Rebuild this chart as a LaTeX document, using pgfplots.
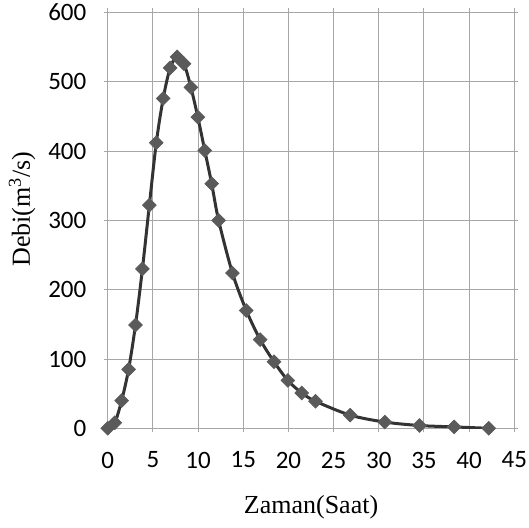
\documentclass[border=0pt]{standalone}
\usepackage{pgfplots}
\pgfplotsset{compat=1.18}
\usepackage{fontspec}
\setmainfont{Liberation Serif}
\newfontfamily\calibri{Carlito}
\definecolor{gridc}{HTML}{A6A6A6}
\definecolor{linec}{HTML}{333333}
\definecolor{markc}{HTML}{5A5A5A}
\begin{document}
\begin{tikzpicture}[x=1pt,y=1pt]
\path[use as bounding box] (0,0) rectangle (529,527);
\begin{axis}[
  at={(107.8pt,98.7pt)}, anchor=south west,
  scale only axis, width=406.5pt, height=415.8pt,
  xmin=0, xmax=45, ymin=0, ymax=600,
  xtick={0,5,...,45}, ytick={0,100,...,600},
  grid=major, major grid style={gridc, line width=1pt},
  axis line style={gridc, line width=1pt},
  tick style={gridc, line width=1pt}, tick align=outside, major tick length=4pt,
  /pgf/number format/assume math mode=true,
  tick label style={font=\calibri\fontsize{25}{25}\selectfont, black},
  xticklabel style={yshift=-16pt},
  yticklabel style={xshift=-14pt},
  xlabel={Zaman(Saat)}, ylabel={Debi(m\textsuperscript{3}/s)},
  label style={font=\fontsize{26}{26}\selectfont},
  xlabel style={at={(axis description cs:0.5,-0.189)}, anchor=center},
  ylabel style={at={(axis description cs:-0.211,0.527)}, anchor=center},
]
\addplot[linec, line width=3pt, smooth, tension=0.5, mark=square*, mark size=4.8pt,
  mark options={rotate=45, fill=markc, draw=linec!80, line width=0.8pt}]
  coordinates {
(0,0) (0.767,8) (1.533,40) (2.3,85) (3.067,149) (3.833,230) (4.6,322) (5.367,412)
(6.133,476) (6.9,520) (7.667,536) (8.433,526) (9.2,492) (9.967,449) (10.733,401)
(11.5,353) (12.267,300) (13.8,224) (15.333,170) (16.867,128) (18.4,96) (19.933,69)
(21.467,51) (23.0,39) (26.833,19) (30.667,9) (34.5,4) (38.333,2) (42.167,0)
};
\end{axis}
\end{tikzpicture}
\end{document}
